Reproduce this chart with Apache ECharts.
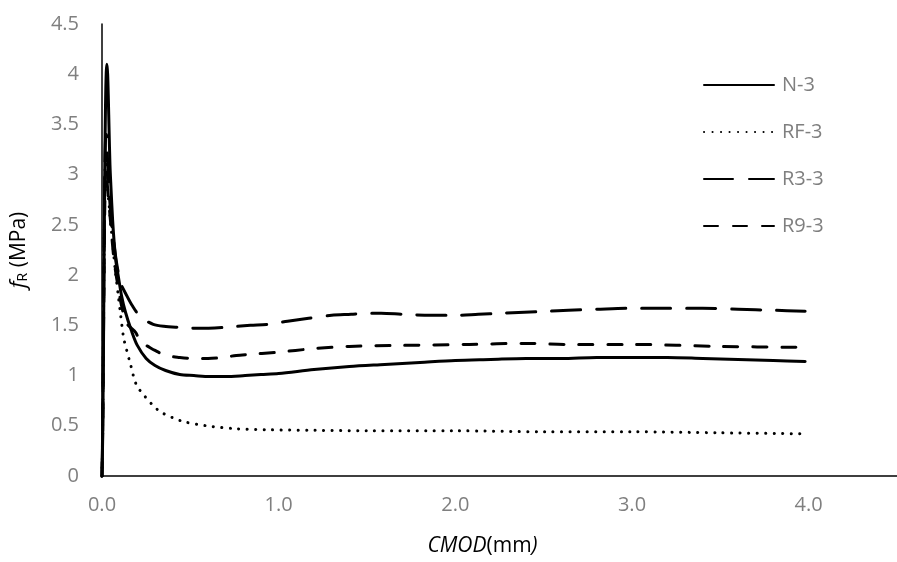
<!DOCTYPE html>
<html>
<head>
<meta charset="utf-8">
<script src="https://cdn.jsdelivr.net/npm/echarts@6/dist/echarts.min.js"></script>
<style>
html,body{margin:0;padding:0;background:#fff;}
#chart{width:897px;height:562px;}
</style>
</head>
<body>
<div id="chart"></div>
<script>
var seriesNames = ['N-3', 'RF-3', 'R3-3', 'R9-3'];

var n3X = [0,0.004,0.008,0.012,0.016,0.02,0.024,0.028,0.032,0.036,0.04,0.045,0.05,0.06,0.07,0.08,0.094,0.11,0.133,0.166,0.2,0.25,0.3,0.36,0.44,0.52,0.61,0.7,0.81,0.9,1.0,1.2,1.4,1.6,1.8,2.0,2.2,2.4,2.6,2.8,3.0,3.2,3.4,3.6,3.8,3.98];
var n3Y = [0,0.4,1.2,2.2,3.1,3.7,4.02,4.1,4.0,3.75,3.45,3.1,2.9,2.55,2.3,2.12,1.97,1.8,1.63,1.45,1.3,1.17,1.1,1.05,1.01,1.0,0.99,0.99,1.0,1.01,1.02,1.06,1.09,1.11,1.13,1.15,1.16,1.17,1.17,1.18,1.18,1.18,1.17,1.16,1.15,1.14];

var rfX = [0,0.004,0.008,0.012,0.016,0.02,0.025,0.03,0.04,0.05,0.061,0.075,0.094,0.105,0.122,0.14,0.16,0.194,0.244,0.29,0.33,0.4,0.465,0.59,0.76,0.94,1.2,1.5,2.0,2.5,3.0,3.5,3.96];
var rfY = [0,0.5,1.4,2.3,2.9,3.2,3.1,2.9,2.7,2.5,2.3,2.05,1.77,1.61,1.38,1.25,1.12,0.91,0.79,0.7,0.64,0.58,0.54,0.50,0.47,0.46,0.455,0.45,0.45,0.44,0.44,0.43,0.42];

var r3X = [0,0.004,0.008,0.012,0.016,0.02,0.025,0.03,0.04,0.05,0.065,0.08,0.095,0.11,0.133,0.17,0.22,0.29,0.35,0.44,0.55,0.69,0.84,0.94,1.05,1.17,1.3,1.41,1.5,1.58,1.7,1.86,2.0,2.13,2.26,2.39,2.52,2.64,2.8,3.0,3.2,3.4,3.6,3.8,3.98];
var r3Y = [0,0.5,1.4,2.3,3.0,3.35,3.4,3.2,2.85,2.6,2.35,2.15,2.0,1.9,1.82,1.7,1.58,1.51,1.49,1.48,1.47,1.48,1.50,1.51,1.54,1.57,1.60,1.61,1.62,1.62,1.61,1.60,1.60,1.61,1.62,1.63,1.64,1.65,1.66,1.67,1.67,1.67,1.66,1.65,1.64];

var r9X = [0,0.004,0.008,0.012,0.016,0.02,0.025,0.03,0.04,0.05,0.065,0.08,0.095,0.11,0.14,0.19,0.22,0.26,0.30,0.36,0.44,0.52,0.6,0.68,0.76,0.83,0.98,1.21,1.4,1.69,2.08,2.39,2.63,3.0,3.5,3.98];
var r9Y = [0,0.5,1.3,2.1,2.7,3.0,3.05,2.9,2.7,2.5,2.2,2.0,1.85,1.7,1.52,1.43,1.33,1.29,1.25,1.20,1.18,1.17,1.17,1.18,1.2,1.21,1.23,1.27,1.29,1.30,1.31,1.32,1.31,1.31,1.29,1.28];

var xTicks = [0, 1, 2, 3, 4];

function pairs(xs, ys) {
  var out = [];
  for (var i = 0; i < xs.length; i++) out.push([xs[i], ys[i]]);
  return out;
}

var styles = [
  {type: 'solid', cap: 'round'},
  {type: [0.1, 8.4], cap: 'round'},
  {type: [29, 16], cap: 'round'},
  {type: [14, 15], cap: 'round'}
];
var datasets = [pairs(n3X, n3Y), pairs(rfX, rfY), pairs(r3X, r3Y), pairs(r9X, r9Y)];

var chart = echarts.init(document.getElementById('chart'), null, {renderer: 'canvas'});
var FONT = 'Open Sans';
var option = {
  animation: false,
  backgroundColor: '#fff',
  grid: {left: 98, top: 24, right: -13, bottom: 82.5, containLabel: false},
  legend: {
    orient: 'vertical',
    left: 698,
    top: 70,
    itemWidth: 70,
    itemHeight: 18,
    itemGap: 27,
    data: seriesNames,
    itemStyle: {opacity: 0, borderWidth: 0},
    textStyle: {color: '#7f7f7f', fontSize: 20, fontFamily: FONT, padding: [0, 0, 0, 3]}
  },
  xAxis: {
    type: 'value',
    min: 0,
    max: 4.5,
    interval: 1,
    splitLine: {show: false},
    axisTick: {show: false},
    axisLine: {onZero: false, lineStyle: {color: '#000', width: 1.5}},
    axisLabel: {
      color: '#7f7f7f', fontSize: 20, fontFamily: FONT, margin: 19, showMaxLabel: false,
      formatter: function (v) { return xTicks.indexOf(v) >= 0 ? v.toFixed(1) : ''; }
    },
    name: '{i|CMOD}{n|(mm}{i|)}',
    nameLocation: 'middle',
    nameGap: 60,
    nameTextStyle: {
      padding: [0, 34, 0, 0],
      rich: {
        i: {fontStyle: 'italic', fontSize: 21, fontFamily: FONT, color: '#000'},
        n: {fontSize: 21, fontFamily: FONT, color: '#000'}
      }
    }
  },
  yAxis: {
    type: 'value',
    min: 0,
    max: 4.5,
    interval: 0.5,
    splitLine: {show: false},
    axisTick: {show: false},
    axisLine: {show: true, lineStyle: {color: '#000', width: 1.5}},
    axisLabel: {color: '#7f7f7f', fontSize: 20, fontFamily: FONT, margin: 23},
    name: '{f|f}{s|R}{n| (MPa)}',
    nameLocation: 'middle',
    nameRotate: 90,
    nameGap: 72,
    nameTextStyle: {
      rich: {
        f: {fontStyle: 'italic', fontSize: 22, fontFamily: FONT, color: '#000'},
        s: {fontSize: 14, fontFamily: FONT, color: '#000', verticalAlign: 'bottom', padding: [8, 0, 0, 0]},
        n: {fontSize: 21, fontFamily: FONT, color: '#000'}
      }
    }
  },
  series: seriesNames.map(function (name, i) {
    return {
      name: name,
      type: 'line',
      data: datasets[i],
      showSymbol: false,
      symbol: 'none',
      smooth: 0.3,
      clip: false,
      lineStyle: {color: '#000', width: 3, type: styles[i].type, cap: styles[i].cap, join: 'round'},
      itemStyle: {color: '#000'}
    };
  })
};
chart.setOption(option);
</script>
</body>
</html>
